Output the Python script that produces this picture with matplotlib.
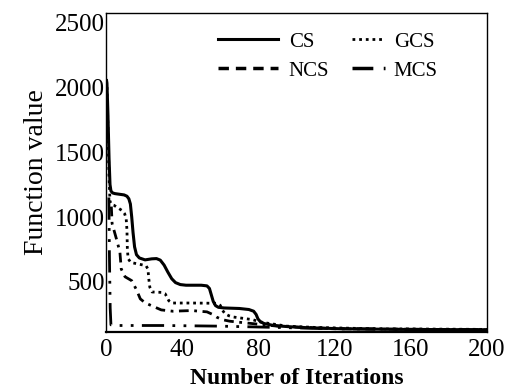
import matplotlib
matplotlib.use("Agg")
import matplotlib.pyplot as plt
from matplotlib.lines import Line2D

plt.rcParams["font.family"] = ["Liberation Serif", "DejaVu Serif"]

# ── Data ──────────────────────────────────────────────────────────────────────
cs_x = [0.3, 0.5, 1.0, 1.6, 2.1, 2.6, 3.5, 4.7, 9.5, 11, 12, 12.8, 13.5, 14.2,
        15, 16, 17.5, 20.5, 24, 26.5, 28.5, 30.5, 32.5, 34.5, 36.5, 39, 42,
        50, 53, 54.3, 55.3, 56.3, 57.5, 59, 62, 70, 75, 77.5, 78.8, 79.8, 81,
        83, 87, 92, 102, 123, 154, 200]
cs_y = [2050, 2030, 1800, 1450, 1250, 1200, 1185, 1180, 1170, 1160, 1140, 1100,
        1000, 880, 770, 710, 685, 670, 678, 680, 668, 630, 575, 525, 495, 480,
        475, 475, 470, 450, 400, 350, 318, 305, 300, 296, 288, 275, 250, 215,
        195, 180, 168, 160, 150, 140, 135, 132]

gcs_x = [0.5, 1.0, 1.6, 2.1, 3.0, 4.2, 8.4, 9.8, 10.6, 11, 11.2, 11.6, 13, 18,
         21, 22, 22.5, 23, 24.2, 29, 31, 32, 33, 34.5, 45, 58, 60, 61, 62.5,
         64.5, 67, 77, 81, 86, 95, 110, 140, 200]
gcs_y = [2000, 1700, 1300, 1120, 1095, 1090, 1050, 1025, 985, 900, 760, 680,
         650, 635, 625, 600, 520, 460, 423, 420, 410, 384, 355, 338, 338, 336,
         320, 285, 255, 240, 230, 210, 192, 180, 160, 150, 140, 135]

ncs_x = [1.5, 1.8, 2.2, 2.6, 5, 30, 60, 90, 120, 200]
ncs_y = [1150, 700, 300, 170, 165, 165, 160, 150, 140, 132]

mcs_x = [2.8, 3.2, 5.5, 7.3, 8, 10, 13.5, 16, 18, 20.5, 23.5, 29, 35, 45, 53,
         56, 58, 61, 65, 70, 90, 120, 200]
mcs_y = [1080, 950, 830, 730, 600, 540, 510, 440, 370, 340, 320, 285, 275, 280,
         270, 250, 230, 210, 198, 190, 160, 140, 132]

x_ticks = [0, 40, 80, 120, 160, 200]
y_ticks = [500, 1000, 1500, 2000, 2500]

# ── Plot ──────────────────────────────────────────────────────────────────────
fig = plt.figure(figsize=(5.06, 3.92), dpi=100)
ax = fig.add_axes([106 / 506, 60 / 392, 381 / 506, 319 / 392])

l_cs, = ax.plot(cs_x, cs_y, color="black", lw=2.2, label="CS",
                solid_joinstyle="round")
l_gcs, = ax.plot(gcs_x, gcs_y, color="black", lw=2.0, ls=(0, (1, 1.4)),
                 dash_capstyle="butt", label="GCS")
l_ncs, = ax.plot(ncs_x, ncs_y, color="black", lw=2.0,
                 ls=(0, (8, 3, 1, 3, 1, 3)), label="NCS")
l_mcs, = ax.plot(mcs_x, mcs_y, color="black", lw=2.0,
                 ls=(0, (3.5, 2, 1, 2)), label="MCS")

ax.set_xlim(0, 200)
ax.set_ylim(115, 2570)
ax.set_xticks(x_ticks)
ax.set_yticks(y_ticks)
ax.tick_params(axis="both", length=0, labelsize=18)
ax.tick_params(axis="x", pad=5)
ax.tick_params(axis="y", pad=1)

for s in ax.spines.values():
    s.set_linewidth(1.0)
ax.spines["bottom"].set_linewidth(1.6)

ax.set_xlabel("Number of Iterations", fontsize=17, fontweight="bold", labelpad=5)
ax.set_ylabel("Function value", fontsize=20, labelpad=4)

# legend handles as drawn in the reference
h_ncs = Line2D([], [], color="black", lw=2.5, ls=(0, (3, 2)))
h_mcs = Line2D([], [], color="black", lw=2.5, ls=(0, (6, 3, 0.8, 3)))

leg1 = ax.legend([l_cs, h_ncs], ["CS", "NCS"], loc="upper left",
                 bbox_to_anchor=(0.294, 0.94), frameon=False, fontsize=15,
                 handlelength=2.9, handletextpad=0.5, labelspacing=0.45,
                 borderpad=0, borderaxespad=0)
ax.add_artist(leg1)
ax.legend([l_gcs, h_mcs], ["GCS", "MCS"], loc="upper left",
          bbox_to_anchor=(0.646, 0.94), frameon=False, fontsize=15,
          handlelength=1.6, handletextpad=0.4, labelspacing=0.45,
          borderpad=0, borderaxespad=0)

fig.savefig("out.png", dpi=100)
